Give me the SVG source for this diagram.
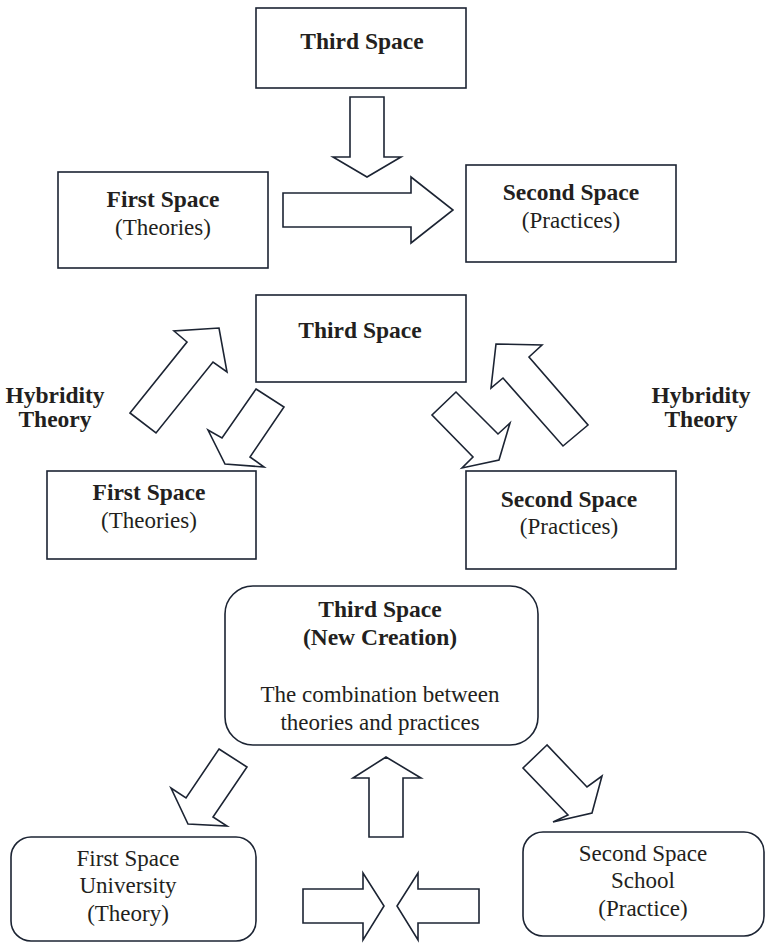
<svg xmlns="http://www.w3.org/2000/svg" width="767" height="943" viewBox="0 0 767 943">
<style>
.box{fill:#fff;stroke:#1c2433;stroke-width:1.6}
.arr{fill:#fff;stroke:#1c2433;stroke-width:1.6;stroke-linejoin:miter}
text{font-family:"Liberation Serif","Times New Roman",serif;fill:#231f20;text-anchor:middle}
.b{font-weight:bold;font-size:23.5px}
.r{font-size:23px}
</style>
<rect width="767" height="943" fill="#fff"/>
<g id="s1-third"><rect class="box" x="256" y="8" width="210" height="80"/><text class="b" x="362" y="49">Third Space</text></g>
<g id="s1-first"><rect class="box" x="58" y="172" width="210" height="96"/><text class="b" x="163" y="207">First Space</text><text class="r" x="163" y="235">(Theories)</text></g>
<g id="s1-second"><rect class="box" x="466" y="165" width="210" height="97"/><text class="b" x="571" y="200">Second Space</text><text class="r" x="571" y="228">(Practices)</text></g>
<g id="s2-third"><rect class="box" x="256" y="295" width="210" height="87"/><text class="b" x="360" y="338">Third Space</text></g>
<g id="s2-first"><rect class="box" x="47" y="471" width="209" height="88"/><text class="b" x="149" y="500">First Space</text><text class="r" x="149" y="528">(Theories)</text></g>
<g id="s2-second"><rect class="box" x="466" y="471" width="210" height="98"/><text class="b" x="569" y="507">Second Space</text><text class="r" x="569" y="534">(Practices)</text></g>
<g id="hyb-left"><text class="b" x="55" y="403">Hybridity</text><text class="b" x="55" y="427">Theory</text></g>
<g id="hyb-right"><text class="b" x="701" y="403">Hybridity</text><text class="b" x="701" y="427">Theory</text></g>
<g id="s3-third"><rect class="box" x="225" y="586" width="313" height="159" rx="28"/><text class="b" x="380" y="617">Third Space</text><text class="b" x="380" y="645">(New Creation)</text><text class="r" x="380" y="702">The combination between</text><text class="r" x="380" y="730">theories and practices</text></g>
<g id="s3-first"><rect class="box" x="11" y="837" width="245" height="104" rx="20"/><text class="r" x="128" y="866">First Space</text><text class="r" x="128" y="893">University</text><text class="r" x="128" y="921">(Theory)</text></g>
<g id="s3-second"><rect class="box" x="523" y="832" width="241" height="104" rx="20"/><text class="r" x="643" y="861">Second Space</text><text class="r" x="643" y="888">School</text><text class="r" x="643" y="916">(Practice)</text></g>
<g id="connectors">
<polygon class="arr" points="350,97 384,97 384,157 401,157 367,177 333,157 350,157"/>
<polygon class="arr" points="283,193 411,193 411,177 453,210 411,243 411,227 283,227"/>
<polygon class="arr" points="130,413 187,342 174,331 219,328 227,372 213,362 156,433"/>
<polygon class="arr" points="256,389 284,407 250,457 264,467 225,464 208,430 222,438"/>
<polygon class="arr" points="456,392 432,415 473,457 462,468 499,460 510,423 498,434"/>
<polygon class="arr" points="496,344 542,345 529,357 588,425 563,446 503,378 491,388"/>
<polygon class="arr" points="219,749 247,767 213,817 227,826 188,824 171,788 186,798"/>
<polygon class="arr" points="369,837 403,837 403,778 421,778 386,757 353,778 369,778"/>
<polygon class="arr" points="547,745 523,768 568,815 553,822 592,813 602,776 587,787"/>
<polygon class="arr" points="303,889 363,889 363,873 384,906 363,940 363,923 303,923"/>
<polygon class="arr" points="479,889 418,889 418,873 397,906 418,940 418,923 479,923"/>
</g>
</svg>
